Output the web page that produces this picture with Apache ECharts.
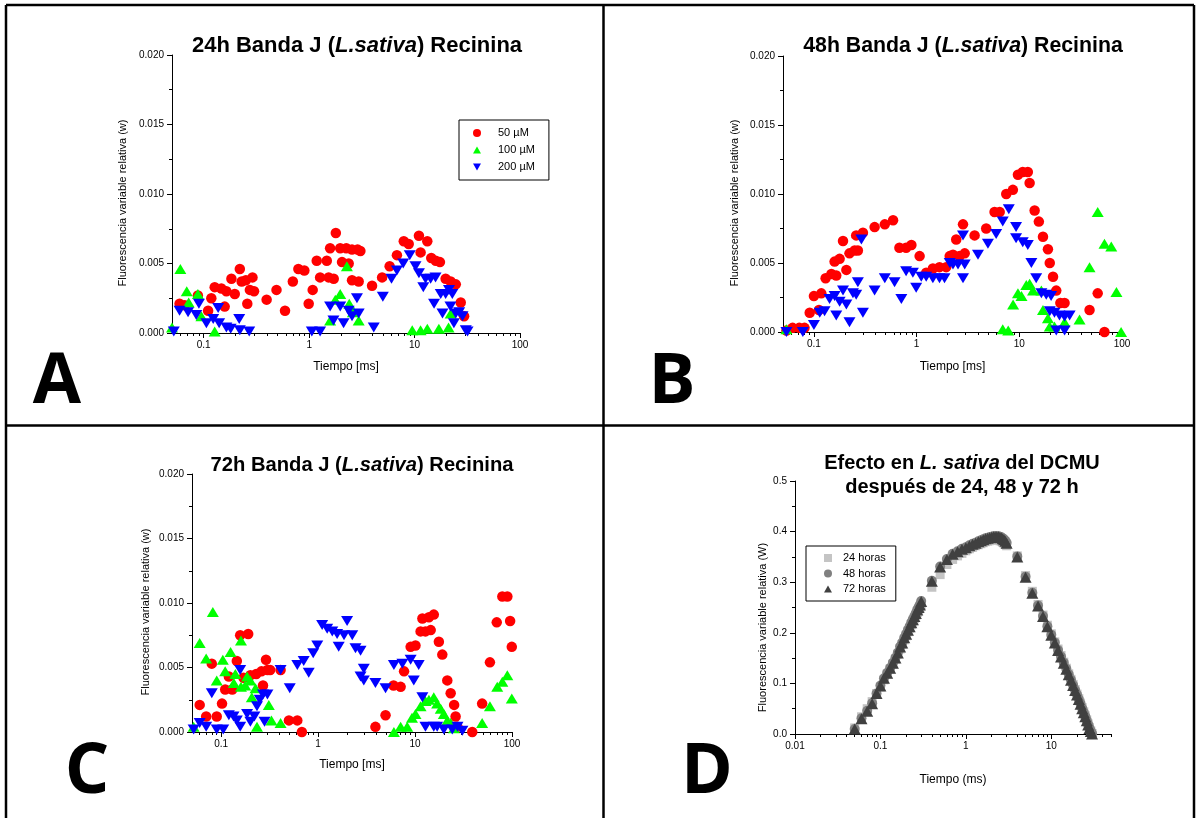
<!DOCTYPE html>
<html><head><meta charset="utf-8">
<script src="https://cdn.jsdelivr.net/npm/echarts@6/dist/echarts.min.js"></script>
<style>html,body{margin:0;padding:0;background:#fff}#c{width:1196px;height:818px}</style>
</head><body><div id="c"></div>
<script>
const FONT = 'Liberation Sans';

// ---------- Panel A (24h) : [time ms, value] ----------
const a50 = [[0.059,0.0021],[0.066,0.0020],[0.088,0.0027],[0.11,0.0016],[0.118,0.0025],[0.127,0.0033],[0.147,0.0032],[0.164,0.0030],[0.158,0.0019],[0.183,0.0039],[0.197,0.0028],[0.22,0.0046],[0.229,0.0037],[0.251,0.0038],[0.259,0.0021],[0.274,0.0031],[0.29,0.0040],[0.30,0.0030],[0.395,0.0024],[0.49,0.0031],[0.59,0.0016],[0.70,0.0037],[0.79,0.0046],[0.90,0.0045],[0.99,0.0021],[1.08,0.0031],[1.18,0.0052],[1.27,0.0040],[1.47,0.0052],[1.53,0.0040],[1.58,0.0061],[1.71,0.0039],[1.79,0.0072],[1.97,0.0061],[2.05,0.0051],[2.25,0.0061],[2.37,0.0050],[2.55,0.0060],[2.55,0.0038],[2.88,0.0060],[2.95,0.0037],[3.06,0.0059],[3.95,0.0034],[4.92,0.0040],[5.8,0.0048],[6.8,0.0056],[7.9,0.0066],[8.8,0.0064],[11,0.0070],[11.4,0.0058],[13.2,0.0066],[14.4,0.0054],[15.9,0.0052],[17.4,0.0051],[19.7,0.0039],[22,0.0037],[24.6,0.0035],[27.4,0.0022],[29.5,0.0012]];
const a100 = [[0.05,0.0004],[0.060,0.0046],[0.069,0.0030],[0.072,0.0022],[0.088,0.0028],[0.095,0.0012],[0.127,0.0001],[1.58,0.0009],[1.77,0.0024],[1.97,0.0028],[2.28,0.0048],[2.4,0.0021],[2.6,0.0015],[2.95,0.0009],[9.5,0.0002],[11.4,0.0002],[13.2,0.0003],[17,0.0003],[21,0.0004],[22,0.0014]];
const a200 = [[0.052,0.0001],[0.059,0.0016],[0.071,0.0015],[0.085,0.0013],[0.09,0.0021],[0.106,0.0007],[0.123,0.0010],[0.137,0.0018],[0.14,0.0007],[0.164,0.0004],[0.18,0.0003],[0.217,0.0010],[0.22,0.0002],[0.27,0.0001],[1.06,0.0001],[1.27,0.0001],[1.58,0.0019],[1.70,0.0009],[1.97,0.0019],[2.12,0.0007],[2.37,0.0016],[2.55,0.0012],[2.84,0.0025],[2.95,0.0014],[4.1,0.0004],[5.0,0.0026],[6.04,0.0039],[6.8,0.0045],[7.8,0.0050],[9.0,0.0056],[10.2,0.0048],[11,0.0043],[12.1,0.0033],[12.7,0.0039],[14.2,0.0039],[15.3,0.0021],[15.8,0.0040],[17.7,0.0028],[18.4,0.0014],[19.7,0.0028],[21.2,0.0031],[21.9,0.0019],[22.8,0.0028],[23.6,0.0007],[24.6,0.0014],[26.5,0.0015],[28.5,0.0012],[30.6,0.0002],[31.8,0.0001]];

// ---------- Panel B (48h) ----------
const b50 = [[0.054,0.0001],[0.062,0.0003],[0.072,0.0003],[0.081,0.0003],[0.091,0.0014],[0.10,0.0026],[0.112,0.0016],[0.118,0.0028],[0.13,0.0039],[0.148,0.0042],[0.159,0.0051],[0.165,0.0041],[0.178,0.0053],[0.192,0.0066],[0.207,0.0045],[0.222,0.0057],[0.249,0.0059],[0.258,0.0070],[0.268,0.0059],[0.30,0.0072],[0.39,0.0076],[0.49,0.0078],[0.59,0.0081],[0.68,0.0061],[0.79,0.0061],[0.89,0.0063],[1.07,0.0055],[1.24,0.0043],[1.44,0.0046],[1.67,0.0047],[1.94,0.0047],[2.1,0.0055],[2.26,0.0056],[2.43,0.0067],[2.62,0.0055],[2.83,0.0078],[2.94,0.0057],[3.67,0.0070],[4.76,0.0075],[5.74,0.0087],[6.44,0.0087],[7.46,0.0100],[8.66,0.0103],[9.7,0.0114],[10.8,0.0116],[12.1,0.0116],[12.6,0.0108],[14.1,0.0088],[15.5,0.0080],[17,0.0069],[19,0.0060],[19.8,0.0050],[21.3,0.0040],[22.9,0.0030],[25.1,0.0021],[27.6,0.0021],[48.3,0.0016],[58,0.0028],[67.5,0.0000]];
const b100 = [[0.054,0.0002],[6.9,0.0002],[7.8,0.0001],[8.7,0.0020],[9.7,0.0028],[10.5,0.0026],[11.7,0.0034],[12.6,0.0035],[13.6,0.0030],[16.4,0.0030],[17,0.0016],[19,0.0010],[19.8,0.0004],[22,0.0004],[27.6,0.0007],[38.6,0.0009],[48.3,0.0047],[58,0.0087],[67.5,0.0064],[78.6,0.0062],[88.3,0.0029],[98,0.0000]];
const b200 = [[0.054,0.0000],[0.078,0.0000],[0.10,0.0005],[0.114,0.0014],[0.127,0.0015],[0.142,0.0024],[0.159,0.0026],[0.165,0.0012],[0.178,0.0022],[0.192,0.0030],[0.207,0.0020],[0.222,0.0007],[0.24,0.0028],[0.258,0.0027],[0.268,0.0036],[0.29,0.0067],[0.30,0.0014],[0.39,0.0030],[0.49,0.0039],[0.61,0.0036],[0.71,0.0024],[0.79,0.0044],[0.92,0.0043],[0.99,0.0032],[1.11,0.0040],[1.24,0.0040],[1.44,0.0039],[1.67,0.0039],[1.87,0.0039],[2.1,0.0050],[2.26,0.0049],[2.53,0.0049],[2.83,0.0039],[2.83,0.0070],[2.94,0.0049],[3.96,0.0056],[4.95,0.0064],[5.95,0.0071],[6.9,0.0080],[7.9,0.0089],[9.3,0.0076],[9.3,0.0068],[10.8,0.0065],[12.1,0.0063],[13.1,0.0050],[14.6,0.0039],[16.4,0.0028],[18.3,0.0027],[20.4,0.0026],[19.8,0.0015],[22,0.0014],[24.6,0.0012],[27.6,0.0011],[30.9,0.0012],[22.9,0.0001],[27.6,0.0001]];

// ---------- Panel C (72h) ----------
const c50 = [[0.06,0.0021],[0.07,0.0012],[0.08,0.0053],[0.09,0.0012],[0.102,0.0022],[0.11,0.0033],[0.12,0.0043],[0.13,0.0033],[0.145,0.0055],[0.157,0.0075],[0.17,0.0042],[0.19,0.0076],[0.20,0.0044],[0.23,0.0045],[0.26,0.0047],[0.27,0.0036],[0.29,0.0056],[0.30,0.0048],[0.32,0.0048],[0.41,0.0048],[0.50,0.0009],[0.61,0.0009],[0.68,0.0000],[3.9,0.0004],[4.96,0.0013],[6.0,0.0036],[7.1,0.0035],[7.7,0.0047],[9.0,0.0066],[10.1,0.0067],[11.4,0.0078],[11.9,0.0088],[12.8,0.0078],[13.9,0.0089],[14.5,0.0079],[15.6,0.0091],[17.6,0.0070],[19.1,0.0060],[21.5,0.0040],[23.3,0.0030],[25.3,0.0021],[26.2,0.0012],[27.4,0.0004],[38.9,0.0000],[49.2,0.0022],[59.2,0.0054],[69.6,0.0085],[79.5,0.0105],[89.5,0.0105],[95.6,0.0086],[99.5,0.0066]];
const c100 = [[0.052,0.0004],[0.06,0.0069],[0.07,0.0057],[0.082,0.0093],[0.09,0.0040],[0.104,0.0056],[0.11,0.0047],[0.125,0.0062],[0.135,0.0038],[0.14,0.0045],[0.16,0.0071],[0.16,0.0035],[0.177,0.0036],[0.185,0.0043],[0.20,0.0040],[0.207,0.0027],[0.226,0.0034],[0.234,0.0004],[0.31,0.0021],[0.33,0.0009],[0.41,0.0007],[6.05,0.0000],[7.1,0.0004],[8.3,0.0004],[9.3,0.0011],[10.1,0.0014],[11.4,0.0020],[12.8,0.0024],[13.9,0.0025],[15.6,0.0027],[16.9,0.0022],[18.4,0.0018],[19.8,0.0014],[21.5,0.0009],[23.3,0.0007],[25.2,0.0003],[49.2,0.0007],[59.2,0.0020],[70.4,0.0035],[79.5,0.0039],[89.5,0.0044],[99.5,0.0026]];
const c200 = [[0.052,0.0002],[0.06,0.0007],[0.07,0.0004],[0.08,0.0030],[0.09,0.0002],[0.105,0.0002],[0.12,0.0013],[0.134,0.0012],[0.145,0.0009],[0.157,0.0048],[0.157,0.0004],[0.185,0.0014],[0.20,0.0008],[0.22,0.0012],[0.234,0.0020],[0.25,0.0025],[0.27,0.0029],[0.28,0.0008],[0.30,0.0029],[0.41,0.0048],[0.51,0.0034],[0.61,0.0052],[0.71,0.0055],[0.80,0.0046],[0.89,0.0061],[0.98,0.0067],[1.1,0.0083],[1.24,0.0080],[1.4,0.0078],[1.57,0.0076],[1.63,0.0066],[1.85,0.0075],[1.99,0.0086],[2.25,0.0075],[2.43,0.0065],[2.74,0.0063],[2.96,0.0049],[2.74,0.0043],[2.96,0.0040],[3.9,0.0038],[4.96,0.0034],[6.05,0.0052],[7.4,0.0053],[9.0,0.0056],[10.9,0.0052],[9.7,0.0040],[11.9,0.0027],[12.8,0.0004],[15.6,0.0004],[16.9,0.0004],[19.8,0.0002],[24.2,0.0002],[27.4,0.0004],[30.8,0.0001]];

// ---------- Panel D (DCMU) ----------
const dTimes = [0.05,0.06,0.07,0.08,0.09,0.10,0.11,0.12,0.13,0.14,0.15,0.16,0.17,0.18,0.19,0.20,0.21,0.22,0.23,0.24,0.25,0.26,0.27,0.28,0.29,0.30,
 0.4,0.5,0.6,0.7,0.8,0.9,1.0,1.1,1.2,1.3,1.4,1.5,1.6,1.7,1.8,1.9,2.0,2.1,2.2,2.3,2.4,2.5,2.6,2.7,2.8,2.9,3.0,
 4,5,6,7,8,9,10,11,12,13,14,15,16,17,18,19,20,21,22,23,24,25,26,27,28,29,30];
const d24 = [0.012,0.034,0.05,0.064,0.08,0.093,0.107,0.118,0.128,0.138,0.148,0.158,0.168,0.177,0.186,0.194,0.202,0.209,0.216,0.222,0.228,0.234,0.24,0.245,0.25,0.255,
 0.29,0.315,0.335,0.345,0.352,0.357,0.362,0.366,0.369,0.372,0.374,0.376,0.378,0.38,0.381,0.382,0.383,0.384,0.384,0.384,0.383,0.382,0.381,0.379,0.377,0.375,0.372,
 0.352,0.313,0.282,0.256,0.235,0.215,0.198,0.182,0.168,0.155,0.142,0.13,0.119,0.108,0.098,0.088,0.079,0.07,0.061,0.052,0.044,0.036,0.028,0.02,0.013,0.006,0.001];
const d48 = [0.01,0.031,0.046,0.061,0.08,0.096,0.11,0.121,0.131,0.141,0.151,0.161,0.173,0.181,0.19,0.198,0.206,0.213,0.221,0.227,0.233,0.239,0.246,0.251,0.256,0.263,
 0.303,0.331,0.346,0.356,0.361,0.366,0.369,0.373,0.376,0.378,0.381,0.383,0.385,0.387,0.388,0.389,0.39,0.391,0.391,0.391,0.391,0.39,0.389,0.387,0.385,0.382,0.378,
 0.351,0.311,0.279,0.254,0.233,0.213,0.196,0.181,0.166,0.153,0.141,0.129,0.118,0.107,0.097,0.087,0.078,0.069,0.06,0.051,0.043,0.035,0.027,0.019,0.012,0.006,0.001];
const d72 = [0.01,0.03,0.045,0.06,0.08,0.095,0.11,0.12,0.13,0.14,0.15,0.16,0.172,0.18,0.19,0.197,0.205,0.212,0.22,0.226,0.232,0.238,0.245,0.25,0.255,0.262,
 0.302,0.33,0.345,0.355,0.36,0.365,0.368,0.372,0.375,0.377,0.38,0.382,0.384,0.386,0.387,0.388,0.389,0.39,0.39,0.39,0.39,0.389,0.388,0.386,0.384,0.381,0.377,
 0.35,0.31,0.278,0.253,0.232,0.212,0.195,0.18,0.165,0.152,0.14,0.128,0.117,0.106,0.096,0.086,0.077,0.068,0.059,0.05,0.042,0.034,0.026,0.018,0.011,0.005,0.0];

// axis tick values
const majorABC = [0.1, 1, 10, 100];
const minorABC = [0.06,0.07,0.08,0.09,0.2,0.3,0.4,0.5,0.6,0.7,0.8,0.9,2,3,4,5,6,7,8,9,20,30,40,50,60,70,80,90];
const majorD = [0.01, 0.1, 1, 10];
const minorD = [0.02,0.03,0.04,0.05,0.06,0.07,0.08,0.09,0.2,0.3,0.4,0.5,0.6,0.7,0.8,0.9,2,3,4,5,6,7,8,9,20,30,40,50];

const seriesNames = ['50 µM', '100 µM', '200 µM'];
const dNames = ['24 horas', '48 horas', '72 horas'];
const titlesABC = ['24h', '48h', '72h'];

// ---------- layout ----------
const grids = [
  {left:172, top:55, width:348, height:278},
  {left:783, top:56, width:339, height:276},
  {left:192, top:474, width:320, height:258},
  {left:795, top:481, width:316, height:253}
];

function xAxes(gi, min, max, major, minor, name, gap) {
  return [{
    type:'log', logBase:10, gridIndex:gi, min:min, max:max, position:'bottom',
    name:name, nameLocation:'middle', nameGap:gap,
    nameTextStyle:{fontFamily:FONT, fontSize:12, color:'#000'},
    axisLine:{show:true, lineStyle:{color:'#000', width:1}},
    axisTick:{show:true, length:5, customValues:major, lineStyle:{color:'#000'}},
    axisLabel:{customValues:major, fontFamily:FONT, fontSize:10, color:'#000', margin:7, formatter:v=>String(v)},
    splitLine:{show:false}
  },{
    type:'log', logBase:10, gridIndex:gi, min:min, max:max, position:'bottom',
    axisLine:{show:false},
    axisTick:{show:true, length:3, customValues:minor, lineStyle:{color:'#000'}},
    axisLabel:{show:false}, splitLine:{show:false}
  }];
}
function yAxis(gi, max, interval, digits, name, gap, shift) {
  return {
    type:'value', gridIndex:gi, min:0, max:max, interval:interval,
    name:name, nameLocation:'middle', nameGap:gap, nameRotate:90,
    nameTextStyle:{fontFamily:FONT, fontSize:11, color:'#000', padding:[0, shift, 0, 0]},
    axisLine:{show:true, lineStyle:{color:'#000', width:1}},
    axisTick:{show:true, length:5, lineStyle:{color:'#000'}},
    minorTick:{show:true, splitNumber:2, length:3, lineStyle:{color:'#000'}},
    axisLabel:{fontFamily:FONT, fontSize:10, color:'#000', margin:8, formatter:v=>v.toFixed(digits)},
    splitLine:{show:false}
  };
}

const yName = 'Fluorescencia variable relativa (w)';
const xAxisList = [].concat(
  xAxes(0, 0.05, 100, majorABC, minorABC, 'Tiempo [ms]', 28),
  xAxes(1, 0.05, 100, majorABC, minorABC, 'Tiempo [ms]', 29),
  xAxes(2, 0.05, 100, majorABC, minorABC, 'Tiempo [ms]', 27),
  xAxes(3, 0.01, 50, majorD, minorD, 'Tiempo (ms)', 40)
);
const yAxisList = [
  yAxis(0, 0.02, 0.005, 3, yName, 44, 18),
  yAxis(1, 0.02, 0.005, 3, yName, 43, 18),
  yAxis(2, 0.02, 0.005, 3, yName, 41, 18),
  yAxis(3, 0.5, 0.1, 1, 'Fluorescencia variable relativa (W)', 27, 40)
];

const COL = ['#ff0000', '#00ff00', '#0000ff'];
function jSeries(idx, d50, d100, d200) {
  const xi = idx * 2, yi = idx;
  return [
    {name:seriesNames[0], type:'scatter', xAxisIndex:xi, yAxisIndex:yi, data:d50, symbol:'circle', symbolSize:10.5, itemStyle:{color:COL[0], opacity:1}, z:2},
    {name:seriesNames[1], type:'scatter', xAxisIndex:xi, yAxisIndex:yi, data:d100, symbol:'triangle', symbolSize:[12,10], itemStyle:{color:COL[1], opacity:1}, z:3},
    {name:seriesNames[2], type:'scatter', xAxisIndex:xi, yAxisIndex:yi, data:d200, symbol:'triangle', symbolRotate:180, symbolSize:[12,10], itemStyle:{color:COL[2], opacity:1}, z:4}
  ];
}
const zip = (t, v) => t.map((x, i) => [x, v[i]]);
const series = [].concat(
  jSeries(0, a50, a100, a200),
  jSeries(1, b50, b100, b200),
  jSeries(2, c50, c100, c200),
  [
    {name:dNames[0], type:'scatter', xAxisIndex:6, yAxisIndex:3, data:zip(dTimes, d24), symbol:'rect', symbolSize:9, itemStyle:{color:'#c4c4c4', opacity:1}, z:2},
    {name:dNames[1], type:'scatter', xAxisIndex:6, yAxisIndex:3, data:zip(dTimes, d48), symbol:'circle', symbolSize:10, itemStyle:{color:'#808080', opacity:1}, z:3},
    {name:dNames[2], type:'scatter', xAxisIndex:6, yAxisIndex:3, data:zip(dTimes, d72), symbol:'triangle', symbolSize:[12,11], itemStyle:{color:'#404040', opacity:1}, z:4}
  ]
);

function richTitle(prefix, left, top, fs) {
  return {
    text:'{b|' + prefix + ' Banda J (}{i|L.sativa}{b|) Recinina}',
    left:left, top:top, textAlign:'center', padding:0,
    textStyle:{rich:{
      b:{fontFamily:FONT, fontSize:fs, fontWeight:'bold', color:'#000', lineHeight:24},
      i:{fontFamily:FONT, fontSize:fs, fontWeight:'bold', fontStyle:'italic', color:'#000', lineHeight:24}
    }}
  };
}
const titles = [
  richTitle(titlesABC[0], 357, 34, 22),
  richTitle(titlesABC[1], 963, 34, 21.3),
  richTitle(titlesABC[2], 362, 453, 20.2),
  {
    text:'{b|Efecto en }{i|L. sativa}{b| del DCMU}\n{b|después de 24, 48 y 72 h}',
    left:962, top:451, textAlign:'center', padding:0,
    textStyle:{rich:{
      b:{fontFamily:FONT, fontSize:20, fontWeight:'bold', color:'#000', lineHeight:24},
      i:{fontFamily:FONT, fontSize:20, fontWeight:'bold', fontStyle:'italic', color:'#000', lineHeight:24}
    }}
  }
];

const upTri = 'path://M5,0L10,9L0,9Z';
const downTri = 'path://M0,0L10,0L5,9Z';
const legends = [
  {
    orient:'vertical', left:459, top:120, padding:[7,14,7,14], itemGap:5, itemWidth:8, itemHeight:8,
    borderColor:'#000', borderWidth:1, selectedMode:false,
    textStyle:{fontFamily:FONT, fontSize:11, color:'#000', lineHeight:12, padding:[0,0,0,12]},
    data:[{name:seriesNames[0], icon:'circle'}, {name:seriesNames[1], icon:upTri}, {name:seriesNames[2], icon:downTri}]
  },
  {
    orient:'vertical', left:806, top:546, padding:[6,10,6,18], itemGap:3.5, itemWidth:8, itemHeight:8,
    borderColor:'#000', borderWidth:1, selectedMode:false,
    textStyle:{fontFamily:FONT, fontSize:11, color:'#000', lineHeight:12, padding:[0,0,0,6]},
    data:[{name:dNames[0], icon:'rect'}, {name:dNames[1], icon:'circle'}, {name:dNames[2], icon:upTri}]
  }
];

const letters = [['A',57,383],['B',672,383],['C',87,773],['D',707,773]];
const border = [
  [6,5,1194,5],[6,5,6,818],[1194,5,1194,818],[603.5,5,603.5,818],[6,425.5,1194,425.5]
];
const graphic = [].concat(
  border.map(b => ({type:'line', shape:{x1:b[0], y1:b[1], x2:b[2], y2:b[3]}, style:{stroke:'#000', lineWidth:2.5}, z:100})),
  letters.map(l => ({type:'text', x:l[1], y:l[2], style:{text:l[0], fontFamily:'Open Sans', fontWeight:'bold', fontSize:70, fill:'#000', align:'center', verticalAlign:'middle'}, z:100}))
);

const chart = echarts.init(document.getElementById('c'), null, {renderer:'canvas'});
chart.setOption({
  backgroundColor:'#fff',
  animation:false,
  title:titles,
  legend:legends,
  grid:grids,
  xAxis:xAxisList,
  yAxis:yAxisList,
  series:series,
  graphic:graphic
});
</script>
</body></html>
